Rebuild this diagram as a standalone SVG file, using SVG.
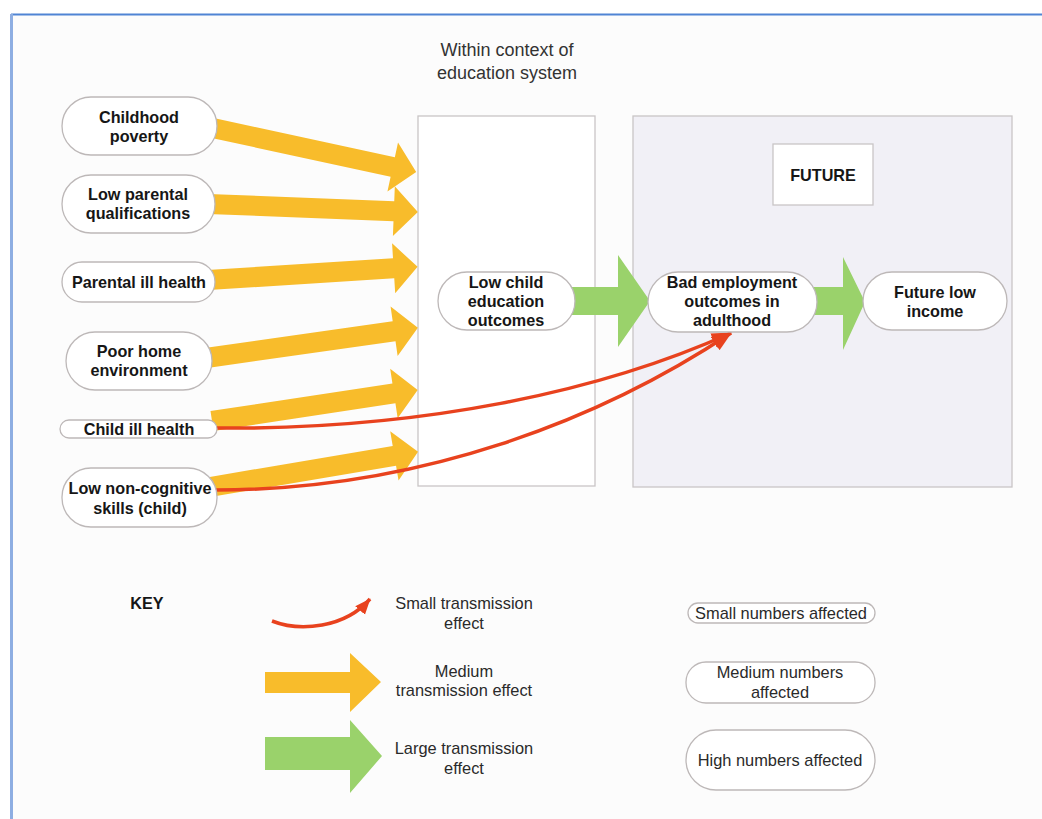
<svg xmlns="http://www.w3.org/2000/svg" width="1042" height="819" viewBox="0 0 1042 819">
<defs>
<style>
.pill{fill:#ffffff;stroke:#bdb8b8;stroke-width:1.3}
.box{stroke:#c9c5c6;stroke-width:1.3}
.nt{font-family:"Liberation Sans",Arial,sans-serif;font-weight:bold;font-size:16.2px;fill:#161616;text-anchor:middle;dominant-baseline:central}
.kt{font-family:"Liberation Sans",Arial,sans-serif;font-size:16.4px;fill:#2a2a2a;text-anchor:middle;dominant-baseline:central}
.tt{font-family:"Liberation Sans",Arial,sans-serif;font-size:18px;fill:#333;text-anchor:middle;dominant-baseline:central}
.org{fill:#f8bc2b}
.grn{fill:#9ad26b}
.red{fill:none;stroke:#e8421e;stroke-width:3.5}
</style>
<marker id="rh" markerUnits="userSpaceOnUse" markerWidth="20" markerHeight="16" viewBox="0 0 20 16" refX="19" refY="8" orient="auto">
<path d="M0,0 L20,8 L0,16 z" fill="#e8421e"/>
</marker>
<marker id="rhs" markerUnits="userSpaceOnUse" markerWidth="16" markerHeight="14" viewBox="0 0 20 16" refX="19" refY="8" orient="auto">
<path d="M0,0 L20,8 L0,16 z" fill="#e8421e"/>
</marker>
</defs>
<rect x="0" y="0" width="1042" height="819" fill="#ffffff"/>
<rect x="11" y="14" width="1031" height="805" fill="#fcfcfc"/>
<line x1="11" y1="14.5" x2="1042" y2="14.5" stroke="#4f84d4" stroke-width="2"/>
<line x1="11.5" y1="14" x2="11.5" y2="819" stroke="#8eaee2" stroke-width="3"/>

<g id="title">
<text class="tt" x="507" y="50">Within context of</text>
<text class="tt" x="507" y="73">education system</text>
</g>

<g id="education-box">
<rect class="box" x="418" y="116" width="177" height="370" fill="#ffffff"/>
</g>
<g id="future-box">
<rect class="box" x="633" y="116" width="379" height="371" fill="#f1f0f6"/>
</g>
<g id="future-label">
<rect class="box" x="773" y="144" width="100" height="61" fill="#ffffff"/>
<text class="nt" x="823" y="175">FUTURE</text>
</g>

<g id="connectors">
<polygon class="org" transform="translate(208,127) rotate(12.2)" points="0,-10 189,-10 189,-25 213,0 189,25 189,10 0,10"/>
<polygon class="org" transform="translate(208,204) rotate(2.2)" points="0,-10 186,-10 186,-25 210,0 186,25 186,10 0,10"/>
<polygon class="org" transform="translate(208,280) rotate(-3.6)" points="0,-10 186,-10 186,-25 210,0 186,25 186,10 0,10"/>
<polygon class="org" transform="translate(206,358) rotate(-8.1)" points="0,-10 190,-10 190,-25 214,0 190,25 190,10 0,10"/>
<polygon class="org" transform="translate(212,421) rotate(-8.6)" points="0,-10 184,-10 184,-25 208,0 184,25 184,10 0,10"/>
<polygon class="org" transform="translate(210,487) rotate(-9.6)" points="0,-10 187,-10 187,-25 211,0 187,25 187,10 0,10"/>
<polygon class="grn" points="570,287 618,287 618,255 650,301 618,347 618,315 570,315"/>
<polygon class="grn" points="812,287 843,287 843,257 865,302 843,350 843,315 812,315"/>
<path class="red" d="M215,428 C420,430 600,392 731,333" marker-end="url(#rh)"/>
<path class="red" d="M215,490 C420,490 600,420 731,333" marker-end="url(#rh)"/>
</g>

<g id="n-childhood-poverty">
<rect class="pill" x="62" y="97" width="155" height="58" rx="29"/>
<text class="nt" x="139" y="117">Childhood</text>
<text class="nt" x="139" y="136">poverty</text>
</g>
<g id="n-low-parental-qualifications">
<rect class="pill" x="62" y="175" width="153" height="58" rx="29"/>
<text class="nt" x="138" y="194">Low parental</text>
<text class="nt" x="138" y="213">qualifications</text>
</g>
<g id="n-parental-ill-health">
<rect class="pill" x="62" y="262" width="153" height="40" rx="20"/>
<text class="nt" x="139" y="282">Parental ill health</text>
</g>
<g id="n-poor-home-environment">
<rect class="pill" x="66" y="332" width="146" height="58" rx="29"/>
<text class="nt" x="139" y="351">Poor home</text>
<text class="nt" x="139" y="370">environment</text>
</g>
<g id="n-child-ill-health">
<rect class="pill" x="60" y="420" width="157" height="18" rx="9"/>
<text class="nt" x="139" y="429">Child ill health</text>
</g>
<g id="n-low-non-cognitive">
<rect class="pill" x="62" y="468" width="155" height="59" rx="29"/>
<text class="nt" x="140" y="488">Low non-cognitive</text>
<text class="nt" x="140" y="508">skills (child)</text>
</g>
<g id="n-low-child-education">
<rect class="pill" x="438" y="272" width="137" height="58" rx="29"/>
<text class="nt" x="506" y="282">Low child</text>
<text class="nt" x="506" y="301">education</text>
<text class="nt" x="506" y="320">outcomes</text>
</g>
<g id="n-bad-employment">
<rect class="pill" x="648" y="272" width="169" height="60" rx="30"/>
<text class="nt" x="732" y="282">Bad employment</text>
<text class="nt" x="732" y="301">outcomes in</text>
<text class="nt" x="732" y="320">adulthood</text>
</g>
<g id="n-future-low-income">
<rect class="pill" x="863" y="272" width="144" height="58" rx="29"/>
<text class="nt" x="935" y="292">Future low</text>
<text class="nt" x="935" y="311">income</text>
</g>

<g id="key">
<text class="nt" x="147" y="603">KEY</text>
<path class="red" d="M272,621 C300,632 345,628 370,599" marker-end="url(#rhs)"/>
<text class="kt" x="464" y="603">Small transmission</text>
<text class="kt" x="464" y="623">effect</text>
<polygon class="org" points="265,672 350,672 350,653 381,682 350,712 350,693 265,693"/>
<text class="kt" x="464" y="671">Medium</text>
<text class="kt" x="464" y="690">transmission effect</text>
<polygon class="grn" points="265,737 350,737 350,720 382,756 350,793 350,770 265,770"/>
<text class="kt" x="464" y="748">Large transmission</text>
<text class="kt" x="464" y="768">effect</text>
<rect class="pill" x="688" y="603" width="187" height="20" rx="10"/>
<text class="kt" x="781" y="613">Small numbers affected</text>
<rect class="pill" x="686" y="662" width="189" height="41" rx="20"/>
<text class="kt" x="780" y="672">Medium numbers</text>
<text class="kt" x="780" y="692">affected</text>
<rect class="pill" x="686" y="730" width="189" height="60" rx="30"/>
<text class="kt" x="780" y="760">High numbers affected</text>
</g>
</svg>
